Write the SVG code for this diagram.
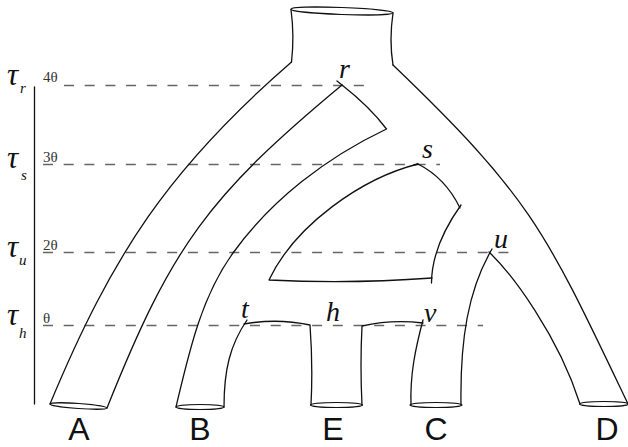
<svg xmlns="http://www.w3.org/2000/svg" width="628" height="447" viewBox="0 0 628 447">
<style>
.ln{fill:none;stroke:#111;stroke-width:1.3;stroke-linecap:round;stroke-linejoin:round}
.el{fill:none;stroke:#111;stroke-width:1.2}
.dash{fill:none;stroke:#666;stroke-width:1.3;stroke-dasharray:10 10.7}
.tau{font-family:"Liberation Serif","DejaVu Serif",serif;font-style:italic;font-size:31px;fill:#111}
.sub{font-family:"Liberation Serif","DejaVu Serif",serif;font-style:italic;font-size:15px;fill:#111}
.th{font-family:"Liberation Serif","DejaVu Serif",serif;font-size:15px;fill:#333}
.nd{font-family:"Liberation Serif","DejaVu Serif",serif;font-style:italic;font-size:28px;fill:#111}
.sp{font-family:"Liberation Sans",Arial,sans-serif;font-size:32px;fill:#111;text-anchor:middle}
</style>
<rect width="628" height="447" fill="#fff"/>
<g id="time-axis">
<line class="ln" x1="34.5" y1="87" x2="34.5" y2="404"/>
<text class="tau" x="7" y="85">τ</text><text class="sub" x="20" y="93">r</text>
<text class="tau" x="7" y="168">τ</text><text class="sub" x="21" y="180">s</text>
<text class="tau" x="7" y="257">τ</text><text class="sub" x="19" y="265">u</text>
<text class="tau" x="7" y="325">τ</text><text class="sub" x="19" y="338">h</text>
<text class="th" x="43" y="82">4θ</text>
<text class="th" x="43" y="162">3θ</text>
<text class="th" x="43" y="250">2θ</text>
<text class="th" x="43" y="323">θ</text>
</g>
<g id="time-lines">
<line class="dash" x1="64" y1="85.5" x2="365" y2="85.5"/>
<line class="dash" x1="43" y1="164.5" x2="440" y2="164.5"/>
<line class="dash" x1="43" y1="252.5" x2="510" y2="252.5"/>
<line class="dash" x1="43" y1="325.5" x2="483" y2="325.5"/>
</g>
<g id="connectors">
<g id="root">
<ellipse class="el" cx="342" cy="11" rx="51" ry="3.5" transform="rotate(2 342 11)"/>
<path class="ln" d="M291,9.5 Q294.5,36 291.5,62"/>
<path class="ln" d="M393,13 Q389,40 393,65"/>
</g>
<g id="pipe-A">
<path class="ln" d="M291.5,62 C168.6,168.6 112.3,254.6 50,404"/>
<path class="ln" d="M342,85 C208.1,196.3 171.9,245.5 107,408"/>
<ellipse class="el" cx="78.5" cy="406" rx="28.6" ry="2.5" transform="rotate(4 78.5 406)"/>
</g>
<g id="pipe-B">
<path class="ln" d="M337,81 L342,85 Q370,107 386.5,129 C326.6,157.4 271.7,199.5 233,253 C200.8,297.6 188.8,353.3 176,407"/>
<path class="ln" d="M247,320 C230,345 224,370 224,407"/>
<ellipse class="el" cx="200" cy="407" rx="24" ry="2.5"/>
</g>
<g id="hole-s">
<path class="ln" d="M414,165 L418,164 Q445.5,178 460,208"/>
<path class="ln" d="M418,164 C362,178 295,225 269,280 Q351,284 432,278"/>
<path class="ln" d="M431.5,283 Q431.75,246 461,205"/>
</g>
<g id="pipe-E">
<path class="ln" d="M244,324 Q277,318 310,325 Q313,365 311,405"/>
<path class="ln" d="M362,405 Q360,365 362,326 Q392,319 423,323"/>
<ellipse class="el" cx="336.5" cy="405" rx="26" ry="2.5"/>
</g>
<g id="pipe-C">
<path class="ln" d="M423,320 C415,350 410,375 411,405"/>
<path class="ln" d="M461,405 C460,340 468,290 492,249"/>
<ellipse class="el" cx="436" cy="405" rx="26" ry="2.5"/>
</g>
<g id="pipe-D">
<path class="ln" d="M489,252 C512,274 558,335 580,404"/>
<path class="ln" d="M393,65 C532.4,198.6 545.7,231.8 628,404"/>
<ellipse class="el" cx="604" cy="404" rx="24.5" ry="2.5"/>
</g>
</g>
<g id="node-labels">
<text class="nd" x="339" y="78">r</text>
<text class="nd" x="422" y="158">s</text>
<text class="nd" x="494" y="248">u</text>
<text class="nd" x="241" y="318">t</text>
<text class="nd" x="326" y="321">h</text>
<text class="nd" x="424" y="322">v</text>
</g>
<g id="species-labels">
<text class="sp" x="79" y="440">A</text>
<text class="sp" x="200" y="440">B</text>
<text class="sp" x="333" y="440">E</text>
<text class="sp" x="436" y="440">C</text>
<text class="sp" x="607" y="440">D</text>
</g>
</svg>
